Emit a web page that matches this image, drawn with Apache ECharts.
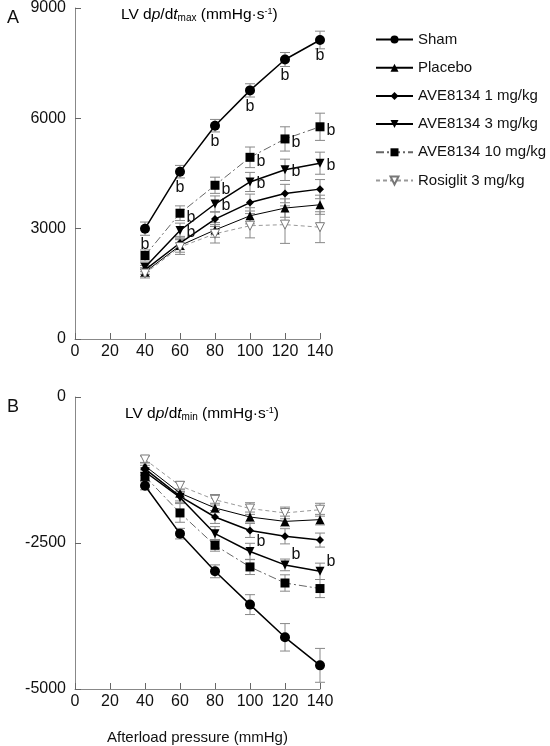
<!DOCTYPE html>
<html><head><meta charset="utf-8">
<script src="https://cdn.jsdelivr.net/npm/echarts@6/dist/echarts.min.js"></script>
<style>html,body{margin:0;padding:0;background:#fff}#c{width:550px;height:746px}</style>
</head><body><div id="c"></div>
<script>
// ---- data ----
const pressures = [40, 60, 80, 100, 120, 140];
const seriesNames = ['Sham', 'Placebo', 'AVE8134 1 mg/kg', 'AVE8134 3 mg/kg', 'AVE8134 10 mg/kg', 'Rosiglit 3 mg/kg'];
const xTickValues = [0, 20, 40, 60, 80, 100, 120, 140];
const maxTickValues = [0, 3000, 6000, 9000];
const minTickValues = [-5000, -2500, 0];

// Panel A: LV dp/dt max (mean, SEM)
const maxSham      = [3000, 4550, 5800, 6760, 7600, 8130];
const maxShamErr   = [180, 170, 170, 180, 190, 240];
const maxPlacebo   = [1820, 2540, 2965, 3350, 3560, 3650];
const maxPlaceboErr= [120, 180, 200, 220, 250, 260];
const maxAve1      = [1880, 2610, 3260, 3710, 3955, 4075];
const maxAve1Err   = [120, 180, 200, 230, 250, 260];
const maxAve3      = [1950, 2950, 3670, 4270, 4600, 4780];
const maxAve3Err   = [120, 200, 220, 260, 290, 300];
const maxAve10     = [2270, 3420, 4180, 4940, 5440, 5770];
const maxAve10Err  = [150, 200, 220, 280, 330, 370];
const maxRosi      = [1780, 2500, 2860, 3080, 3110, 3040];
const maxRosiErr   = [120, 200, 250, 330, 510, 420];
const maxShamSig   = [1, 1, 1, 1, 1, 1];
const maxAve3Sig   = [0, 1, 1, 1, 1, 1];
const maxAve10Sig  = [0, 1, 1, 1, 1, 1];

// Panel B: LV dp/dt min (mean, SEM)
const minSham      = [-1520, -2340, -2985, -3555, -4115, -4595];
const minShamErr   = [70, 90, 110, 170, 235, 290];
const minPlacebo   = [-1180, -1645, -1900, -2055, -2130, -2100];
const minPlaceboErr= [60, 70, 80, 85, 90, 90];
const minAve1      = [-1230, -1700, -2055, -2285, -2385, -2450];
const minAve1Err   = [60, 80, 110, 120, 130, 120];
const minAve3      = [-1280, -1720, -2340, -2645, -2875, -2985];
const minAve3Err   = [60, 90, 120, 140, 100, 140];
const minAve10     = [-1360, -1985, -2540, -2910, -3185, -3280];
const minAve10Err  = [70, 160, 100, 130, 140, 155];
const minRosi      = [-1070, -1520, -1760, -1910, -1985, -1930];
const minRosiErr   = [60, 70, 90, 100, 100, 110];
const minAve3Sig   = [0, 0, 0, 1, 1, 1];

// ---- styles ----
const downTri = 'path://M0,0 L10,0 L5,9 Z';
const styles = [
  {symbol: 'circle', size: 10, color: '#000', line: {color: '#000', width: 1.5, type: 'solid'}},
  {symbol: 'triangle', size: 9, color: '#000', line: {color: '#000', width: 1, type: 'solid'}},
  {symbol: 'diamond', size: 8, color: '#000', line: {color: '#000', width: 1.5, type: 'solid'}},
  {symbol: downTri, size: 9, color: '#000', line: {color: '#000', width: 1.5, type: 'solid'}},
  {symbol: 'rect', size: 9, color: '#000', line: {color: '#666', width: 1, type: [8, 3, 2, 3]}},
  {symbol: downTri, size: 9, color: '#fff', border: '#777', line: {color: '#999', width: 1, type: [4, 3]}}
];

const maxMeans = [maxSham, maxPlacebo, maxAve1, maxAve3, maxAve10, maxRosi];
const maxErrs = [maxShamErr, maxPlaceboErr, maxAve1Err, maxAve3Err, maxAve10Err, maxRosiErr];
const minMeans = [minSham, minPlacebo, minAve1, minAve3, minAve10, minRosi];
const minErrs = [minShamErr, minPlaceboErr, minAve1Err, minAve3Err, minAve10Err, minRosiErr];
const maxSigs = [maxShamSig, null, null, maxAve3Sig, maxAve10Sig, null];
const minSigs = [null, null, null, minAve3Sig, null, null];
const maxSigPos = [{position: 'bottom', distance: 3, offset: [0, 0]}, null, null,
  {position: 'right', distance: 2, offset: [0, 2]}, {position: 'right', distance: 2, offset: [0, 4]}, null];
const minSigPos = [null, null, null, {position: 'right', distance: 2, offset: [0, -10]}, null, null];

const font = '"Liberation Sans", Arial, sans-serif';

function errRender(params, api) {
  const x = api.value(0), lo = api.value(1), hi = api.value(2);
  const a = api.coord([x, lo]), b = api.coord([x, hi]);
  const w = 5;
  const st = {stroke: '#888', lineWidth: 1};
  return {type: 'group', children: [
    {type: 'line', shape: {x1: a[0], y1: a[1], x2: b[0], y2: b[1]}, style: st},
    {type: 'line', shape: {x1: a[0] - w, y1: a[1], x2: a[0] + w, y2: a[1]}, style: st},
    {type: 'line', shape: {x1: b[0] - w, y1: b[1], x2: b[0] + w, y2: b[1]}, style: st}
  ]};
}

const series = [];
function addPanel(gi, means, errs, sigs, sigPos) {
  means.forEach((m, i) => {
    series.push({
      type: 'custom', xAxisIndex: gi, yAxisIndex: gi, z: 1, silent: true,
      renderItem: errRender, encode: {x: 0, y: [1, 2]},
      data: pressures.map((p, k) => [p, m[k] - errs[i][k], m[k] + errs[i][k]])
    });
  });
  means.forEach((m, i) => {
    const s = styles[i];
    series.push({
      name: seriesNames[i], type: 'line', xAxisIndex: gi, yAxisIndex: gi, z: 3,
      symbol: s.symbol, symbolSize: s.size, showAllSymbol: true, clip: false,
      itemStyle: {color: s.color, borderColor: s.border || s.color, borderWidth: s.border ? 1 : 0, opacity: 1},
      lineStyle: {color: s.line.color, width: s.line.width, type: s.line.type},
      emphasis: {disabled: true}, animation: false,
      data: pressures.map((p, k) => {
        const d = {value: [p, m[k]]};
        if (sigs[i] && sigs[i][k]) {
          d.label = Object.assign({show: true, formatter: 'b', fontSize: 16, color: '#111', fontFamily: font}, sigPos[i]);
        }
        return d;
      })
    });
  });
}
addPanel(0, maxMeans, maxErrs, maxSigs, maxSigPos);
addPanel(1, minMeans, minErrs, minSigs, minSigPos);

function xAx(gi) {
  return {
    type: 'value', gridIndex: gi, min: xTickValues[0], max: xTickValues[xTickValues.length - 1], interval: 20,
    axisLine: {show: true, onZero: false, lineStyle: {color: '#888', width: 1}},
    axisTick: {show: true, inside: true, length: 6, lineStyle: {color: '#666'}},
    splitLine: {show: false},
    axisLabel: {fontSize: 16, color: '#111', fontFamily: font, margin: 5, formatter: v => String(v)}
  };
}
function yAx(gi, ticks) {
  return {
    type: 'value', gridIndex: gi, min: ticks[0], max: ticks[ticks.length - 1], interval: ticks[1] - ticks[0],
    axisLine: {show: true, onZero: false, lineStyle: {color: '#888', width: 1}},
    axisTick: {show: true, inside: true, length: 6, lineStyle: {color: '#666'}},
    splitLine: {show: false},
    axisLabel: {fontSize: 16, color: '#111', fontFamily: font, margin: 9, formatter: v => String(v)}
  };
}

const titleRich = {
  n: {fontSize: 15.5, color: '#111', fontFamily: font},
  i: {fontSize: 15.5, color: '#111', fontFamily: font, fontStyle: 'italic'},
  sub: {fontSize: 10, color: '#111', fontFamily: font, verticalAlign: 'bottom', padding: [6, 0, 0, 0]},
  sup: {fontSize: 9, color: '#111', fontFamily: font, padding: [0, 0, 7, 0]}
};

const chart = echarts.init(document.getElementById('c'), null, {renderer: 'canvas'});
chart.setOption({
  backgroundColor: '#fff',
  animation: false,
  grid: [
    {left: 75, top: 6, width: 245, height: 333},
    {left: 75, top: 397, width: 245, height: 292}
  ],
  xAxis: [xAx(0), xAx(1)],
  yAxis: [yAx(0, maxTickValues), yAx(1, minTickValues)],
  legend: {
    data: seriesNames, orient: 'vertical', left: 370, top: 27, itemGap: 13.2,
    itemWidth: 37, itemHeight: 10, selectedMode: false,
    textStyle: {fontSize: 15, color: '#111', fontFamily: font}
  },
  graphic: [
    {type: 'text', left: 7, top: 9, style: {text: 'A', fontSize: 18, fill: '#111', fontFamily: font}},
    {type: 'text', left: 7, top: 398, style: {text: 'B', fontSize: 18, fill: '#111', fontFamily: font}},
    {type: 'text', left: 121, top: 7, style: {
      text: '{n|LV d}{i|p}{n|/d}{i|t}{sub|max}{n| (mmHg·s}{sup|-1}{n|)}', rich: titleRich}},
    {type: 'text', left: 125, top: 406, style: {
      text: '{n|LV d}{i|p}{n|/d}{i|t}{sub|min}{n| (mmHg·s}{sup|-1}{n|)}', rich: titleRich}},
    {type: 'text', left: 107, top: 730, style: {text: 'Afterload pressure (mmHg)', fontSize: 15, fill: '#111', fontFamily: font}}
  ],
  series: series
});
</script></body></html>
